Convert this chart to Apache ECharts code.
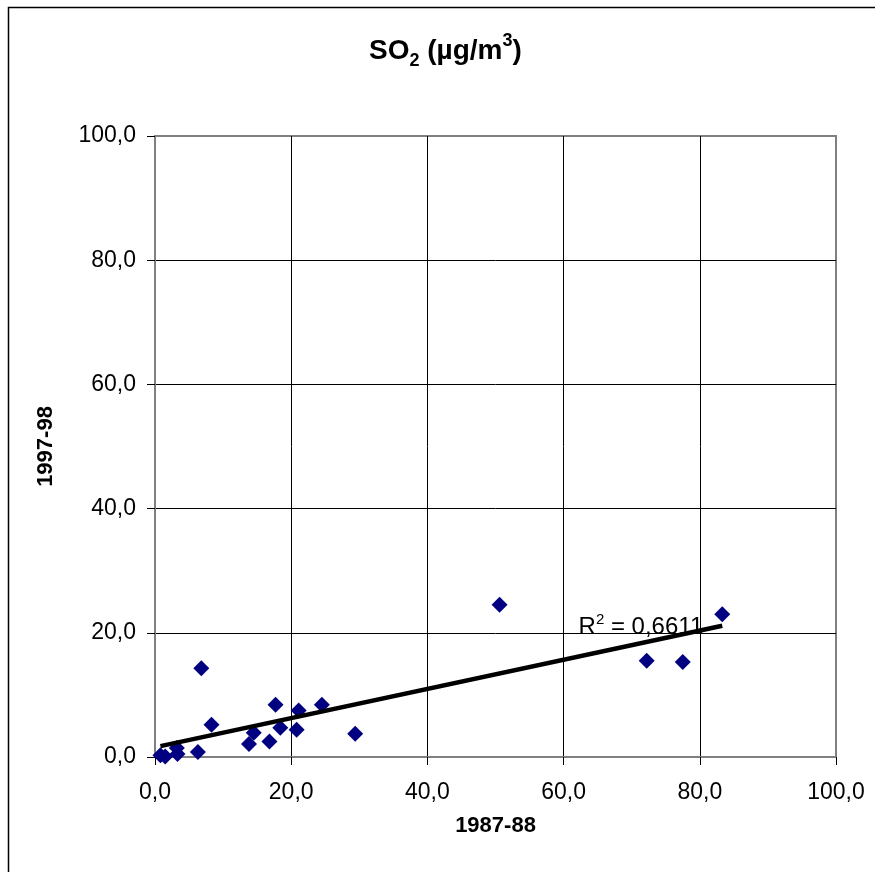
<!DOCTYPE html>
<html>
<head>
<meta charset="utf-8">
<script src="https://cdn.jsdelivr.net/npm/echarts@6/dist/echarts.min.js"></script>
<style>
html,body{margin:0;padding:0;background:#fff;}
#chart{width:875px;height:872px;}
</style>
</head>
<body>
<div id="chart"></div>
<script>
// Data (x = 1987-88, y = 1997-98), µg/m³
var x8788 = [0.8, 1.5, 3.2, 3.3, 6.3, 6.8, 8.3, 13.8, 14.5, 16.8, 17.7, 18.4, 20.8, 21.1, 24.5, 29.4, 50.6, 72.2, 77.5, 83.3];
var y9798 = [0.3, 0.1, 1.45, 0.5, 0.8, 14.3, 5.2, 2.1, 3.9, 2.5, 8.4, 4.7, 4.4, 7.5, 8.4, 3.75, 24.5, 15.5, 15.3, 23.0];
var xTicks = [0, 20, 40, 60, 80, 100];
var yTicks = [0, 20, 40, 60, 80, 100];
var r2Text = '0,6611';

var FONT = '"Liberation Sans", Arial, sans-serif';

var points = x8788.map(function (v, i) { return [v, y9798[i]]; });

// least squares trend line
var n = points.length, sx = 0, sy = 0, sxx = 0, sxy = 0;
points.forEach(function (p) { sx += p[0]; sy += p[1]; sxx += p[0] * p[0]; sxy += p[0] * p[1]; });
var slope = (n * sxy - sx * sy) / (n * sxx - sx * sx);
var intercept = (sy - slope * sx) / n;
var xmin = Math.min.apply(null, x8788), xmax = Math.max.apply(null, x8788);
var trend = [[xmin, intercept + slope * xmin], [xmax, intercept + slope * xmax]];

function fmt(v) { return v.toFixed(1).replace('.', ','); }

var chart = echarts.init(document.getElementById('chart'));
var option = {
  animation: false,
  backgroundColor: '#fff',
  title: {
    text: '{a|SO}{sub|2}{a| (µg/m}{sup|3}{a|)}',
    left: 369,
    top: 32,
    padding: 0,
    textStyle: {
      fontFamily: FONT, fontSize: 28, fontWeight: 'bold', color: '#000', lineHeight: 38,
      rich: {
        a: { fontFamily: FONT, fontSize: 28, fontWeight: 'bold', color: '#000', lineHeight: 38, verticalAlign: 'middle' },
        sub: { fontFamily: FONT, fontSize: 18, fontWeight: 'bold', color: '#000', lineHeight: 38, verticalAlign: 'bottom' },
        sup: { fontFamily: FONT, fontSize: 18, fontWeight: 'bold', color: '#000', lineHeight: 38, verticalAlign: 'top' }
      }
    }
  },
  grid: {
    left: 155, top: 136, right: 39, bottom: 115,
    show: true, borderColor: '#808080', borderWidth: 2, backgroundColor: 'transparent'
  },
  xAxis: {
    type: 'value', min: 0, max: 100, interval: 20,
    name: '1987-88', nameLocation: 'middle', nameGap: 58,
    nameTextStyle: { fontFamily: FONT, fontSize: 22, fontWeight: 'bold', color: '#000' },
    axisLine: { show: true, onZero: false, lineStyle: { color: '#808080', width: 2 } },
    axisTick: { show: true, length: 8, lineStyle: { color: '#000', width: 1 } },
    axisLabel: { margin: 24, fontFamily: FONT, fontSize: 23, color: '#000', formatter: fmt },
    splitLine: { show: true, showMinLine: false, showMaxLine: false, lineStyle: { color: '#000', width: 1 } }
  },
  yAxis: {
    type: 'value', min: 0, max: 100, interval: 20,
    name: '1997-98', nameLocation: 'middle', nameGap: 98, nameRotate: 90,
    nameTextStyle: { fontFamily: FONT, fontSize: 22, fontWeight: 'bold', color: '#000' },
    axisLine: { show: true, onZero: false, lineStyle: { color: '#808080', width: 2 } },
    axisTick: { show: true, length: 8, lineStyle: { color: '#000', width: 1 } },
    axisLabel: { margin: 19, fontFamily: FONT, fontSize: 23, color: '#000', formatter: fmt },
    splitLine: { show: true, showMinLine: false, showMaxLine: false, lineStyle: { color: '#000', width: 1 } }
  },
  series: [
    {
      type: 'scatter',
      data: points,
      symbol: 'diamond',
      symbolSize: [16, 16],
      itemStyle: { color: '#000080', opacity: 1 },
      z: 3
    },
    {
      type: 'line',
      data: trend,
      showSymbol: false,
      symbol: 'none',
      lineStyle: { color: '#000', width: 4.5 },
      z: 4,
      silent: true
    }
  ]
};
chart.setOption(option);

var lblPos = chart.convertToPixel({ gridIndex: 0 }, [62.2, 20.8]);
chart.setOption({
  graphic: [
    {
      type: 'rect', z: 100, silent: true,
      shape: { x: 8.5, y: 7.5, width: 900, height: 900 },
      style: { fill: 'none', stroke: '#000', lineWidth: 1.5 }
    },
    {
      type: 'text', x: lblPos[0], y: lblPos[1], z: 5, silent: true,
      style: {
        text: '{a|R}{sup|2}{a| = ' + r2Text + '}',
        verticalAlign: 'middle', align: 'left',
        rich: {
          a: { fontFamily: FONT, fontSize: 24, color: '#000', lineHeight: 30, verticalAlign: 'middle' },
          sup: { fontFamily: FONT, fontSize: 15, color: '#000', lineHeight: 30, verticalAlign: 'top' }
        }
      }
    }
  ]
});
</script>
</body>
</html>
